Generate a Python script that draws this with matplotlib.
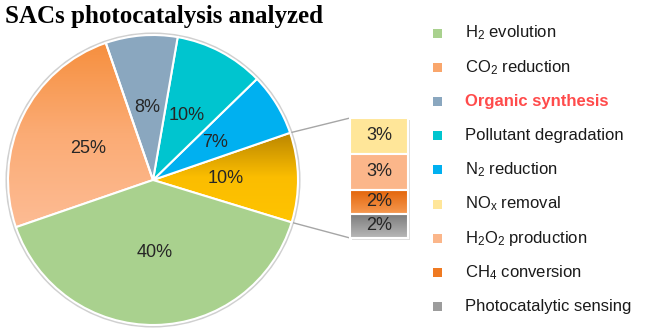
import matplotlib
matplotlib.use('Agg')
import matplotlib.pyplot as plt
import numpy as np
from matplotlib.patches import Rectangle, Circle
from matplotlib.colors import LinearSegmentedColormap

plt.rcParams['font.family'] = 'Liberation Sans'
plt.rcParams['mathtext.fontset'] = 'custom'
plt.rcParams['mathtext.rm'] = 'Liberation Sans'
plt.rcParams['mathtext.it'] = 'Liberation Sans:italic'
plt.rcParams['mathtext.bf'] = 'Liberation Sans:bold'

# main pie, counterclockwise starting at the split-off "other" slice
pie_names = ['Other', 'N2 reduction', 'Pollutant degradation', 'Organic synthesis',
             'CO2 reduction', 'H2 evolution']
pie_values = [10, 7, 10, 8, 25, 40]
pie_colors = ['#ffc000', '#00b0f0', '#00c5cf', '#8aa7bf', '#f9a66c', '#a9d18e']

# breakdown of the "other" slice, top to bottom
other_names = ['NOx removal', 'H2O2 production', 'CH4 conversion', 'Photocatalytic sensing']
other_values = [3, 3, 2, 2]
other_colors = ['#ffe699', '#fbb68a', '#ef7a22', '#9c9c9c']

legend_labels = ['H$_2$ evolution', 'CO$_2$ reduction', 'Organic synthesis',
                 'Pollutant degradation', 'N$_2$ reduction', 'NO$_\\mathrm{x}$ removal',
                 'H$_2$O$_2$ production', 'CH$_4$ conversion', 'Photocatalytic sensing']
legend_colors = ['#a9d18e', '#f9a66c', '#8aa7bf', '#00c5cf', '#00b0f0',
                 '#ffe699', '#fbb68a', '#ef7a22', '#9c9c9c']

W, H = 650, 336
fig = plt.figure(figsize=(W / 100, H / 100), dpi=100)
ax = fig.add_axes([0, 0, 1, 1])

cx, cy, r = 153, H - 180, 145


def gradient_fill(patch, stops, y0, y1, x0, x1, z):
    cmap = LinearSegmentedColormap.from_list('g', stops)
    im = ax.imshow(np.linspace(0, 1, 256).reshape(-1, 1), cmap=cmap,
                   extent=[x0, x1, y0, y1], origin='lower', aspect='auto',
                   zorder=z, interpolation='bilinear')
    im.set_clip_path(patch)


# faint rim around the pie
ax.add_patch(Circle((cx, cy), r + 1.5, facecolor='none', edgecolor='#d0d0d0', lw=1.5, zorder=0.5))

wedges, texts, autotexts = ax.pie(
    pie_values, colors=pie_colors, startangle=-17, counterclock=True,
    center=(cx, cy), radius=r, frame=True,
    autopct=lambda p: f'{p:.0f}%', pctdistance=0.5,
    wedgeprops=dict(edgecolor='white', linewidth=1.5, zorder=2),
    textprops=dict(fontsize=13, color='#262626'))
for t in autotexts:
    t.set_zorder(5)

# shaded slices
gold = wedges[0]
gold.set_facecolor('none')
gradient_fill(gold, ['#ffc400', '#fbbd00', '#b98500'],
              cy + r * np.sin(np.radians(-17)), cy + r * np.sin(np.radians(19)),
              cx, cx + r, 1.5)
orange = wedges[4]
orange.set_facecolor('none')
gradient_fill(orange, ['#fdbc95', '#fbab74', '#f68d3a'],
              cy + r * np.sin(np.radians(200)), cy + r, cx - r, cx, 1.5)

# stacked bar for the split slice
bx, bw = 350, 58
unit = 12
top = H - 118
y = top
shadow = Rectangle((bx + 2, top - sum(other_values) * unit - 2), bw, sum(other_values) * unit,
                   facecolor='#c8c8c8', edgecolor='none', alpha=0.6, zorder=1)
ax.add_patch(shadow)
bar_grads = [None, None, ['#f69a52', '#e3650a'], ['#b8b8b8', '#7c7c7c']]
for v, c, g in zip(other_values, other_colors, bar_grads):
    h = v * unit
    rect = Rectangle((bx, y - h), bw, h, facecolor=c if g is None else 'none',
                     edgecolor='white', lw=1.5, zorder=3)
    ax.add_patch(rect)
    if g is not None:
        gradient_fill(rect, g, y - h, y, bx, bx + bw, 2.5)
    ax.text(bx + bw / 2, y - h / 2, f'{v}%', ha='center', va='center',
            fontsize=13, color='#262626', zorder=5)
    y -= h

# connector lines from the split slice to the bar
t1, t2 = np.radians(gold.theta1), np.radians(gold.theta2)
ax.plot([cx + r * np.cos(t2), bx], [cy + r * np.sin(t2), top], color='#a6a6a6', lw=1, zorder=1)
ax.plot([cx + r * np.cos(t1), bx], [cy + r * np.sin(t1), y], color='#a6a6a6', lw=1, zorder=1)

# legend
for i, (lab, col) in enumerate(zip(legend_labels, legend_colors)):
    yy = H - (33 + i * 34.2)
    ax.add_patch(Rectangle((433, yy - 4.5), 9, 9, facecolor=col, edgecolor='none'))
    if lab == 'Organic synthesis':
        ax.text(465, yy, lab, va='center', ha='left', fontsize=12,
                color='#ff4b4b', fontweight='bold')
    else:
        ax.text(465, yy, lab, va='center', ha='left', fontsize=12, color='#1a1a1a')

fig.text(5 / W, 1 - 16 / H, 'SACs photocatalysis analyzed', ha='left', va='center',
         fontsize=18, fontweight='bold', family='Liberation Serif')

ax.set_xlim(0, W)
ax.set_ylim(0, H)
ax.axis('off')
fig.savefig('out.png', dpi=100)
